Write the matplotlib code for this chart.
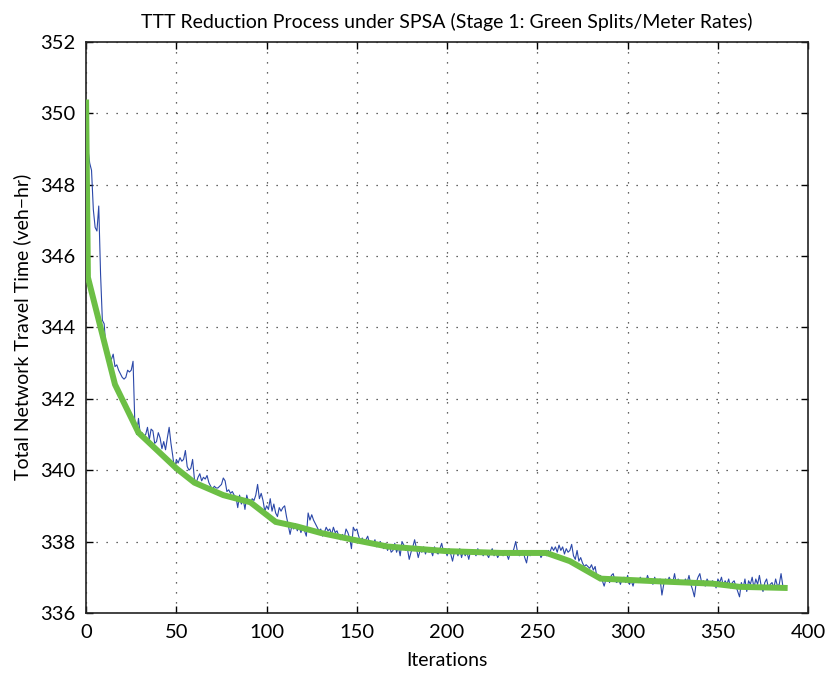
#!/usr/bin/env python3
import matplotlib
matplotlib.use("Agg")
import matplotlib.pyplot as plt
import numpy as np

# TTT per iteration (blue)
ttt = [
    350.3, 349.0, 348.6, 348.4, 347.3, 346.8, 346.7, 347.4, 345.5, 344.2,
    344.1, 343.4, 343.1, 343.2, 343.1, 343.25, 342.9, 342.95, 342.8, 342.7,
    342.6, 342.55, 342.6, 342.8, 342.75, 342.8, 343.05, 341.3, 341.0, 341.45,
    341.0, 341.05, 340.95, 341.0, 341.2, 340.85, 341.15, 341.1, 340.75, 340.8,
    341.05, 340.9, 340.6, 340.8, 340.57, 340.9, 341.2, 340.75, 340.4, 340.0,
    340.3, 340.2, 340.35, 340.25, 340.3, 340.55, 340.1, 340.0, 340.05, 340.3,
    339.75, 339.65, 339.8, 339.9, 339.7, 339.8, 339.75, 339.85, 339.65, 339.55,
    339.45, 339.55, 339.5, 339.5, 339.55, 339.6, 339.78, 339.7, 339.4, 339.45,
    339.35, 339.4, 339.3, 339.25, 338.95, 339.3, 339.05, 339.2, 338.9, 339.3,
    339.1, 339.05, 339.2, 339.15, 339.3, 339.6, 339.2, 339.35, 339.15, 338.85,
    339.0, 338.9, 339.2, 338.85, 339.05, 338.8, 338.7, 338.95, 338.85, 338.95,
    339.0, 338.7, 338.45, 338.2, 338.45, 338.35, 338.5, 338.3, 338.45, 338.25,
    338.4, 338.3, 338.15, 338.8, 338.6, 338.75, 338.6, 338.5, 338.4, 338.3,
    338.35, 338.15, 338.25, 338.4, 338.3, 338.35, 338.2, 338.4, 338.25, 338.3,
    338.15, 338.05, 338.2, 338.1, 338.35, 338.25, 338.1, 337.8, 338.4, 338.3,
    338.35, 338.15, 338.0, 338.1, 337.95, 338.05, 338.15, 337.95, 338.0, 337.9,
    338.05, 337.85, 337.95, 338.0, 337.85, 337.8, 337.95, 337.75, 337.9, 337.7,
    337.75, 337.95, 337.7, 337.85, 337.6, 338.0, 337.9, 337.75, 337.8, 337.5,
    337.7, 337.85, 338.05, 337.8, 337.55, 337.75, 337.7, 337.85, 337.65, 337.8,
    337.7, 337.75, 337.6, 337.85, 337.7, 337.65, 337.8, 337.95, 337.7, 337.75,
    337.6, 337.8, 337.65, 337.45, 337.7, 337.75, 337.6, 337.8, 337.55, 337.75,
    337.6, 337.7, 337.5, 337.75, 337.65, 337.7, 337.6, 337.8, 337.65, 337.7,
    337.6, 337.75, 337.65, 337.55, 337.7, 337.8, 337.6, 337.7, 337.55, 337.65,
    337.7, 337.6, 337.75, 337.65, 337.5, 337.7, 337.65, 337.8, 338.0, 337.7,
    337.6, 337.65, 337.75, 337.55, 337.4, 337.7, 337.6, 337.75, 337.65, 337.7,
    337.65, 337.7, 337.55, 337.65, 337.7, 337.6, 337.75, 337.7, 337.85, 337.75,
    337.85, 337.7, 337.9, 337.75, 337.85, 337.65, 337.8, 337.7, 337.75, 337.92,
    337.6, 337.5, 337.75, 337.45, 337.55, 337.4, 337.3, 337.35, 337.3, 337.25,
    337.35, 337.2, 337.3, 337.0, 336.95, 337.05, 336.9, 336.75, 336.95, 337.0,
    336.85, 337.05, 337.1, 336.9, 336.85, 336.95, 336.8, 336.95, 337.0, 336.85,
    337.05, 336.8, 336.9, 336.75, 336.95, 336.9, 336.85, 337.0, 336.9, 336.95,
    336.85, 337.05, 336.9, 336.95, 336.8, 337.0, 336.85, 336.9, 336.95, 336.5,
    336.8, 336.95, 336.85, 337.0, 336.9, 336.85, 337.1, 336.8, 336.95, 336.85,
    336.9, 336.8, 336.95, 336.85, 337.05, 336.8, 336.65, 336.45, 336.85, 337.0,
    337.1, 336.85, 336.9, 336.75, 336.95, 336.85, 336.8, 336.9, 336.85, 336.7,
    336.95, 336.85, 337.0, 336.75, 336.9, 336.8, 336.95, 336.7, 336.85, 336.9,
    336.75, 336.6, 336.45, 336.85, 336.7, 336.95, 336.6, 336.9, 336.8, 337.0,
    336.7, 336.95, 336.8, 337.05, 336.75, 336.6, 336.85, 336.95, 336.7, 336.8,
    336.85, 336.7, 336.95, 336.75, 336.8, 337.1, 336.75, 336.7,
]
iters = np.arange(len(ttt))

# smoothed trend (green)
trend_x = [0, 1, 16, 29, 50, 60, 76, 91, 105, 117, 130, 148, 167, 200, 230,
           255, 268, 285, 319, 347, 362, 387]
trend_y = [350.3, 345.4, 342.4, 341.05, 340.05, 339.65, 339.3, 339.1, 338.55,
           338.42, 338.24, 338.05, 337.86, 337.73, 337.68, 337.68, 337.45,
           336.96, 336.88, 336.82, 336.73, 336.70]

plt.rcParams['font.family'] = ['Lato', 'DejaVu Sans']

fig = plt.figure(figsize=(8.28, 6.75), dpi=100)
ax = fig.add_axes([0.104, 0.092, 0.872, 0.846])

ax.plot(iters, ttt, color='#2a47a8', lw=0.8, zorder=3)
ax.plot(trend_x, trend_y, color='#6cbf45', lw=4.3, solid_joinstyle='miter', zorder=4)

ax.set_xlim(0, 400)
ax.set_ylim(336, 352)
ax.set_xticks(np.arange(0, 401, 50))
ax.set_yticks(np.arange(336, 353, 2))
ax.tick_params(direction='in', top=True, right=True, length=5, width=1,
               labelsize=14.5, pad=8)
for s in ax.spines.values():
    s.set_linewidth(1.2)
    s.set_color('#222222')
ax.grid(True, color='#333333', linestyle=(0, (1, 7)), linewidth=0.9)

ax.set_xlabel("Iterations", fontsize=14, labelpad=8)
ax.set_ylabel("Total Network Travel Time (veh\u2212hr)", fontsize=14, labelpad=6)
ax.set_title("TTT Reduction Process under SPSA (Stage 1: Green Splits/Meter Rates)",
             fontsize=14, pad=10)

fig.savefig("out.png", dpi=100)
